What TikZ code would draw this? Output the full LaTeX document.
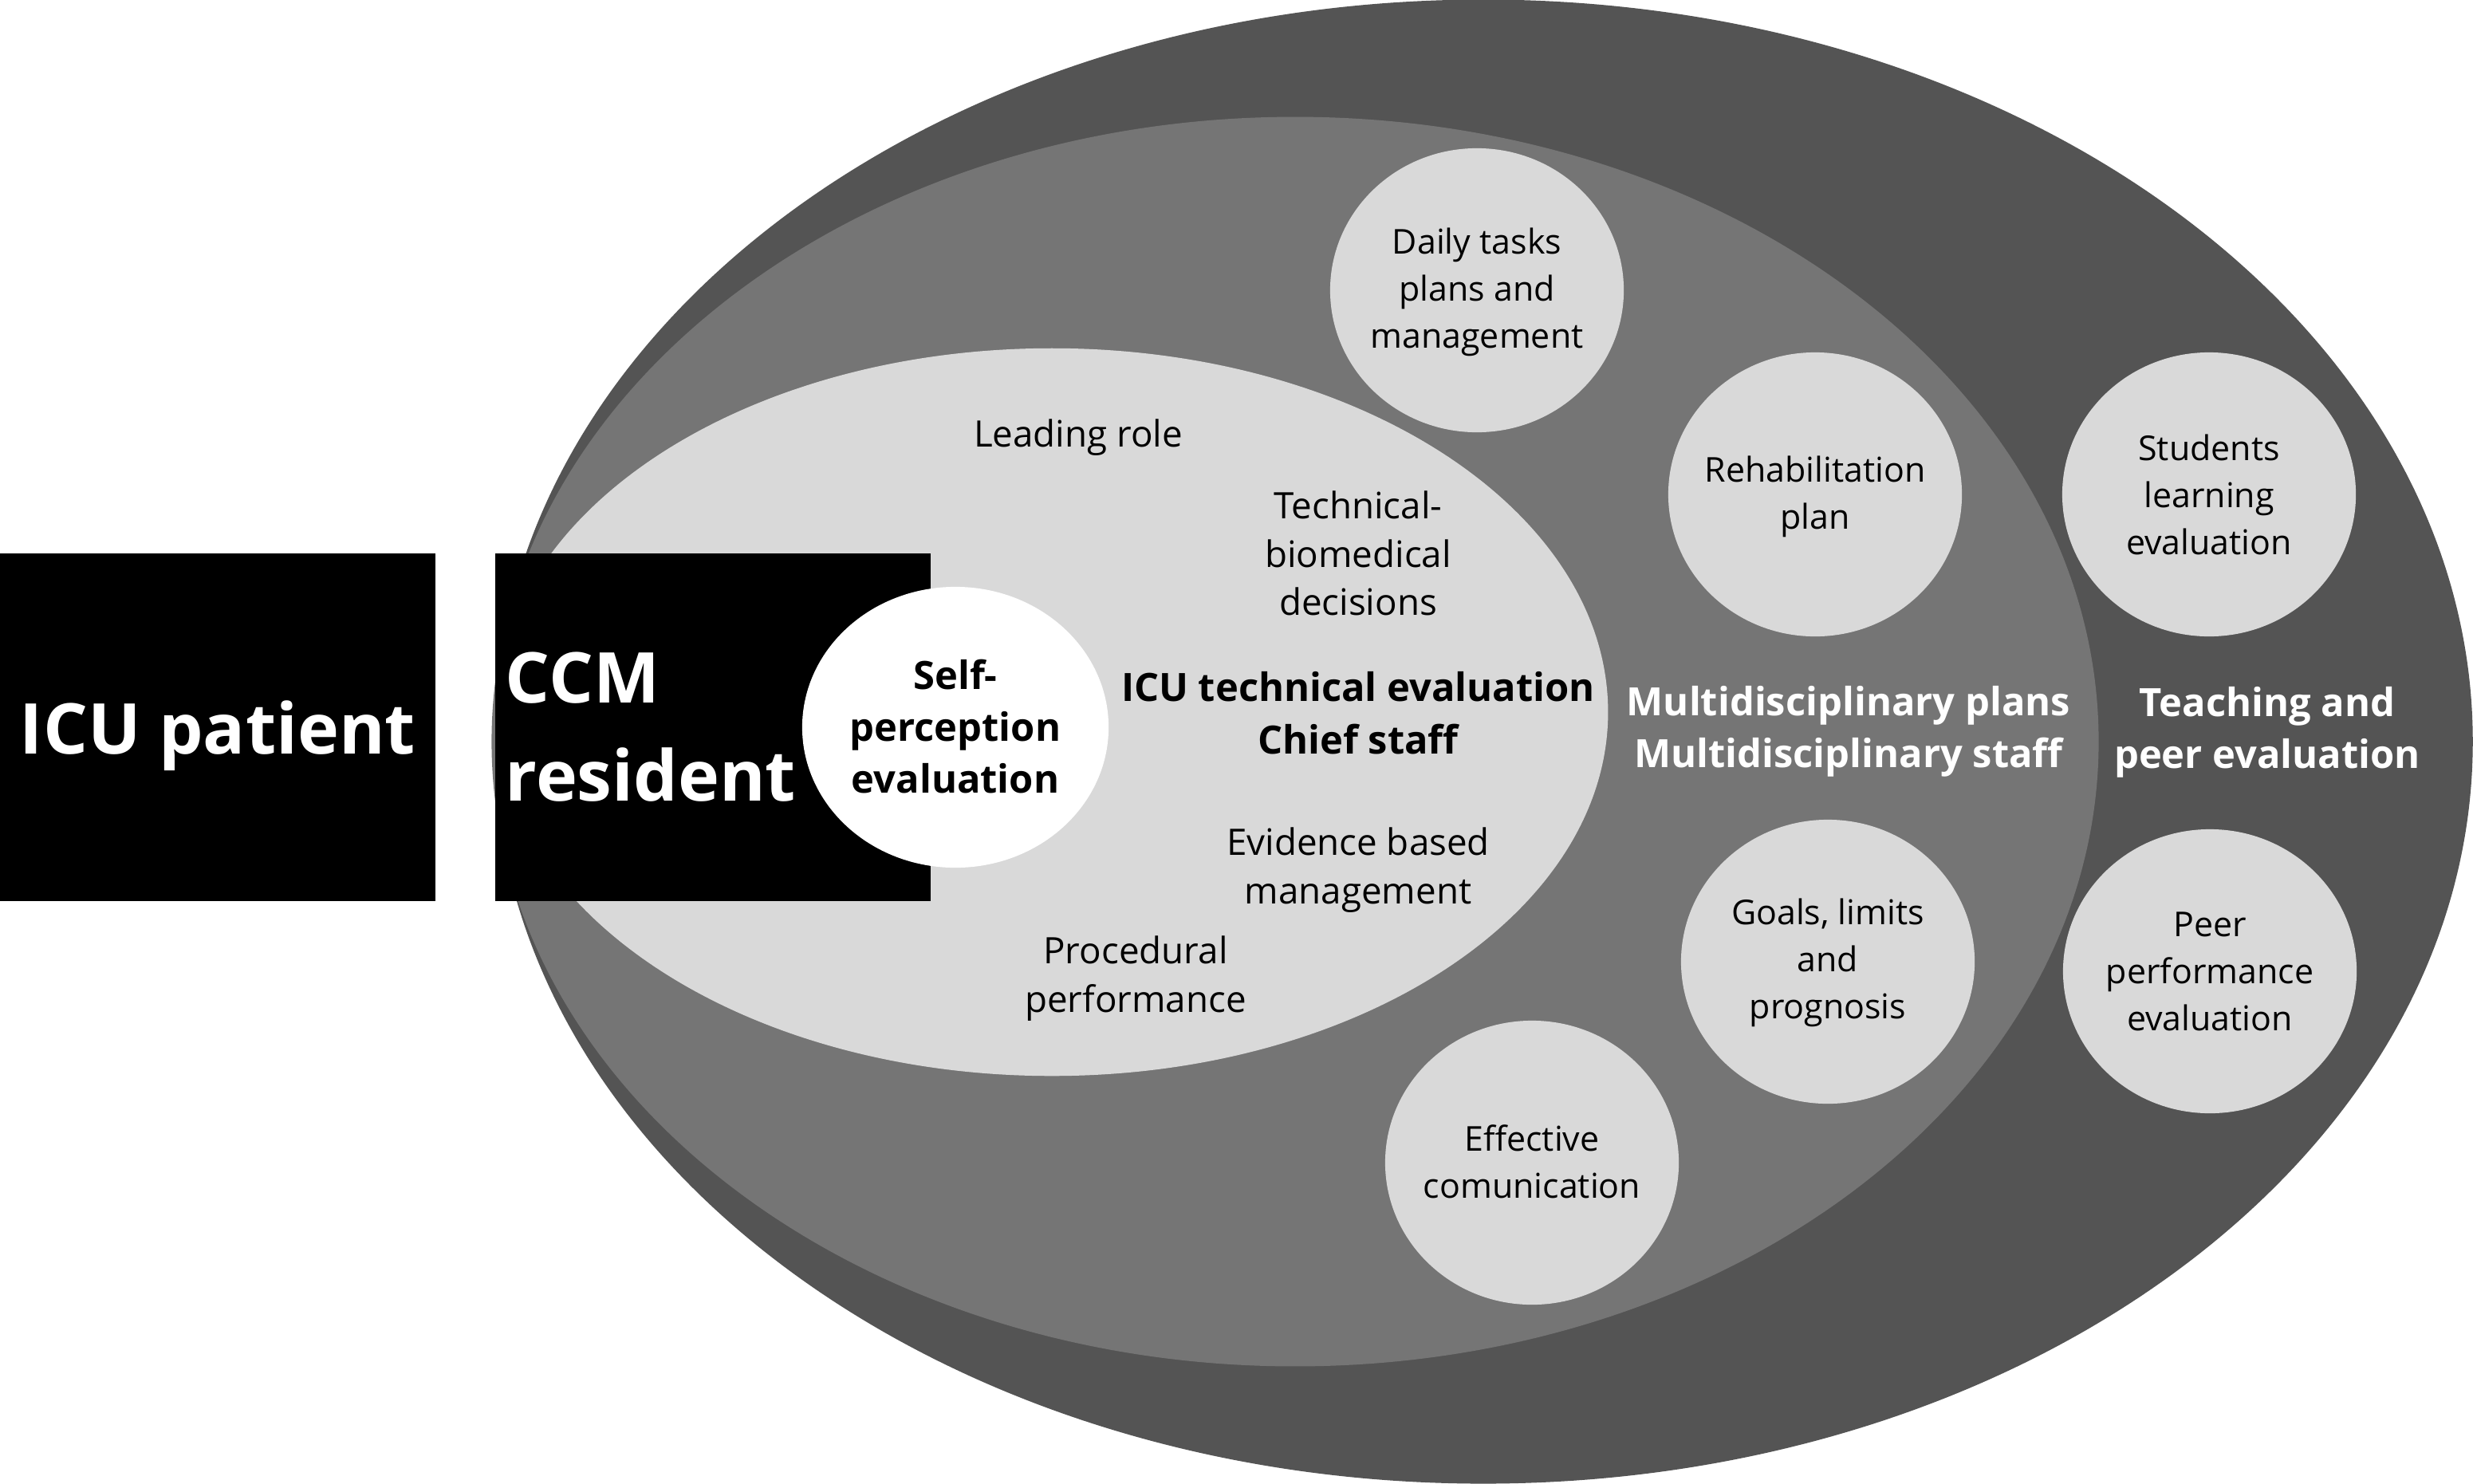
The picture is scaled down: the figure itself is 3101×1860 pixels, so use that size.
\documentclass[tikz,border=0pt]{standalone}
\usepackage{fontspec}
\setmainfont{Open Sans}
\definecolor{ringdark}{HTML}{545454}
\definecolor{ringmid}{HTML}{757575}
\definecolor{ringlight}{HTML}{D9D9D9}
\tikzset{
  blockbox/.style={fill=black, text=white, inner sep=0pt,
    minimum width=5.46cm, minimum height=4.36cm,
    font=\fontsize{25}{35}\selectfont\bfseries},
  bubbletext/.style={align=center, font=\fontsize{12.2}{16.8}\selectfont},
  plaintext/.style={align=center, font=\fontsize{13}{17.3}\selectfont},
  heading/.style={align=center, font=\fontsize{13.9}{18.6}\selectfont\bfseries}
}
\begin{document}
\begin{tikzpicture}[x=0.01cm, y=-0.01cm]
  \useasboundingbox (0,0) rectangle (3101,1860);
  % nested rings
  \fill[ringdark]  (1860,930) ellipse [x radius=12.4cm, y radius=9.3cm];
  \fill[ringmid]   (1624,930) ellipse [x radius=10.07cm, y radius=7.83cm];
  \fill[ringlight] (1319,893) ellipse [x radius=6.97cm, y radius=4.56cm];
  % black blocks
  \node[blockbox, text depth=0pt] (patient) at (273,912) {ICU patient};
  \node[blockbox, align=left, text width=5.2cm] (resident) at (894,912) {CCM\\resident};
  \fill[white] (1198,912) ellipse [x radius=1.92cm, y radius=1.76cm];
  \node[heading] (self) at (1198,911) {Self-\\perception\\evaluation};
  % bubbles
  \foreach \cx/\cy in {1852/364, 2276/620, 2770/620, 2292/1206, 2771/1218, 1921/1458}
    \fill[ringlight] (\cx,\cy) ellipse [x radius=1.84cm, y radius=1.78cm];
  \begin{scope}[every node/.style={bubbletext}]
    \node (daily) at (1852,366) {Daily tasks\\plans and\\management};
    \node (rehab) at (2276,623) {Rehabilitation\\plan};
    \node (students) at (2770,620) {Students\\learning\\evaluation};
    \node (goals) at (2292,1207) {Goals, limits\\and\\prognosis};
    \node (peer) at (2771,1218) {Peer\\performance\\evaluation};
    \node (comm) at (1921,1457) {Effective\\comunication};
  \end{scope}
  % inner labels
  \begin{scope}[every node/.style={plaintext}]
    \node (leading) at (1352,549) {Leading role};
    \node (decisions) at (1703,694) {Technical-\\biomedical\\decisions};
    \node (evidence) at (1703,1091) {Evidence based\\management};
    \node (procedural) at (1424,1227) {Procedural\\performance};
  \end{scope}
  \node[heading] (chief) at (1703,894) {ICU technical evaluation\\Chief staff};
  \node[heading, text=white] (multi) at (2318,917) {Multidisciplinary plans\\Multidisciplinary staff};
  \node[heading, text=white] (teaching) at (2843,918) {Teaching and\\peer evaluation};
\end{tikzpicture}
\end{document}
